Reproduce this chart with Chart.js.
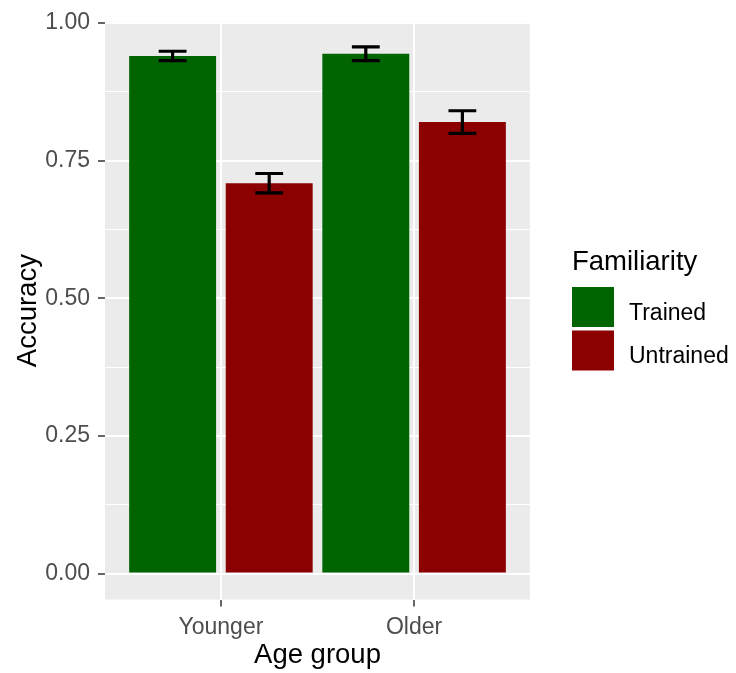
<!DOCTYPE html>
<html>
<head>
<meta charset="utf-8">
<script src="https://cdn.jsdelivr.net/npm/chart.js@4.4.1/dist/chart.umd.min.js"></script>
<style>
  html, body { margin: 0; padding: 0; background: #ffffff; }
  #wrap { width: 736px; height: 673px; position: relative; }
</style>
</head>
<body>
<div id="wrap"><canvas id="c" width="736" height="673"></canvas></div>
<script>
// Mean accuracy by age group and familiarity, with standard errors
const categories = ['Younger', 'Older'];
const seriesNames = ['Trained', 'Untrained'];
const trained = [0.940, 0.944];
const trainedSE = [0.0085, 0.0125];
const untrained = [0.709, 0.820];
const untrainedSE = [0.0175, 0.0205];
const yMajorTicks = [0, 0.25, 0.5, 0.75, 1];
const yMinorTicks = [0.125, 0.375, 0.625, 0.875];

const FONT = "'Liberation Sans', Arial, sans-serif";
const colors = ['#006400', '#8B0000'];
const panelBg = '#EBEBEB';
const axisText = '#4D4D4D';
const tickMark = '#333333';

const toPoints = vals => vals.map((v, i) => ({ x: i + 1, y: v }));
const seValues = [trainedSE, untrainedSE];
const meanValues = [trained, untrained];

// grey panel behind the grid
const panelPlugin = {
  id: 'panel',
  beforeDraw(chart) {
    const { ctx, chartArea: a } = chart;
    ctx.save();
    ctx.fillStyle = panelBg;
    ctx.fillRect(a.left, a.top, a.right - a.left, a.bottom - a.top);
    ctx.restore();
  }
};

// error bars on top of each bar
const errorBarPlugin = {
  id: 'errorBars',
  afterDatasetsDraw(chart) {
    const { ctx } = chart;
    const y = chart.scales.y;
    ctx.save();
    ctx.strokeStyle = '#000000';
    ctx.lineWidth = 3.2;
    ctx.lineCap = 'butt';
    chart.data.datasets.forEach((ds, di) => {
      const meta = chart.getDatasetMeta(di);
      meta.data.forEach((bar, i) => {
        const m = meanValues[di][i];
        const se = seValues[di][i];
        const yt = y.getPixelForValue(m + se);
        const yb = y.getPixelForValue(m - se);
        const half = bar.width * 0.16;
        ctx.beginPath();
        ctx.moveTo(bar.x, yt); ctx.lineTo(bar.x, yb);
        ctx.moveTo(bar.x - half, yt); ctx.lineTo(bar.x + half, yt);
        ctx.moveTo(bar.x - half, yb); ctx.lineTo(bar.x + half, yb);
        ctx.stroke();
      });
    });
    ctx.restore();
  }
};

// legend to the right of the panel
const legendPlugin = {
  id: 'sideLegend',
  afterDraw(chart) {
    const { ctx } = chart;
    ctx.save();
    ctx.fillStyle = '#000000';
    ctx.textAlign = 'left';
    ctx.textBaseline = 'alphabetic';
    ctx.font = `27.5px ${FONT}`;
    ctx.fillText('Familiarity', 572, 269.5);
    const keyX = 572, keyW = 42, keyH = 40;
    const keyY = [287, 330.5];
    const textY = [319.5, 363];
    seriesNames.forEach((name, i) => {
      ctx.fillStyle = colors[i];
      ctx.fillRect(keyX, keyY[i], keyW, keyH);
      ctx.fillStyle = '#000000';
      ctx.font = `23px ${FONT}`;
      ctx.fillText(name, 629, textY[i]);
    });
    ctx.restore();
  }
};

new Chart(document.getElementById('c'), {
  type: 'bar',
  data: {
    datasets: [
      { label: seriesNames[0], data: toPoints(trained), backgroundColor: colors[0], borderWidth: 0 },
      { label: seriesNames[1], data: toPoints(untrained), backgroundColor: colors[1], borderWidth: 0 }
    ]
  },
  options: {
    responsive: false,
    animation: false,
    devicePixelRatio: 1,
    barPercentage: 0.9,
    categoryPercentage: 1.0,
    layout: { padding: { top: 19, right: 206, left: 0, bottom: 0 } },
    plugins: {
      legend: { display: false },
      tooltip: { enabled: false }
    },
    scales: {
      x: {
        type: 'linear',
        min: 0.4,
        max: 2.6,
        offset: false,
        afterBuildTicks(scale) {
          scale.ticks = categories.map((c, i) => ({ value: i + 1 }));
        },
        afterFit(scale) { scale.height = 73.5; },
        border: { display: false },
        grid: {
          offset: false,
          color: '#FFFFFF',
          lineWidth: 2,
          tickColor: tickMark,
          tickLength: 7,
          tickWidth: 1.5
        },
        ticks: {
          padding: 7,
          color: axisText,
          font: { family: FONT, size: 23 },
          callback: (v) => categories[Math.round(v) - 1] || ''
        },
        title: {
          display: true,
          text: 'Age group',
          color: '#000000',
          font: { family: FONT, size: 27.5 },
          padding: { top: 0, bottom: 1 }
        }
      },
      y: {
        type: 'linear',
        min: -0.047,
        max: 1.002,
        afterBuildTicks(scale) {
          scale.ticks = yMajorTicks.concat(yMinorTicks)
            .sort((a, b) => a - b)
            .map(v => ({ value: v }));
        },
        afterFit(scale) { scale.width = 105; },
        border: { display: false },
        grid: {
          color: '#FFFFFF',
          lineWidth: (ctx) => yMajorTicks.includes(ctx.tick && ctx.tick.value) ? 2 : 1,
          tickColor: (ctx) => yMajorTicks.includes(ctx.tick && ctx.tick.value) ? tickMark : 'rgba(0,0,0,0)',
          tickLength: 7,
          tickWidth: 1.5
        },
        ticks: {
          padding: 8,
          color: axisText,
          font: { family: FONT, size: 23 },
          callback: (v) => yMajorTicks.includes(v) ? v.toFixed(2) : ''
        },
        title: {
          display: true,
          text: 'Accuracy',
          color: '#000000',
          font: { family: FONT, size: 27.5 },
          padding: { top: 12, bottom: 0 }
        }
      }
    }
  },
  plugins: [panelPlugin, errorBarPlugin, legendPlugin]
});
</script>
</body>
</html>
